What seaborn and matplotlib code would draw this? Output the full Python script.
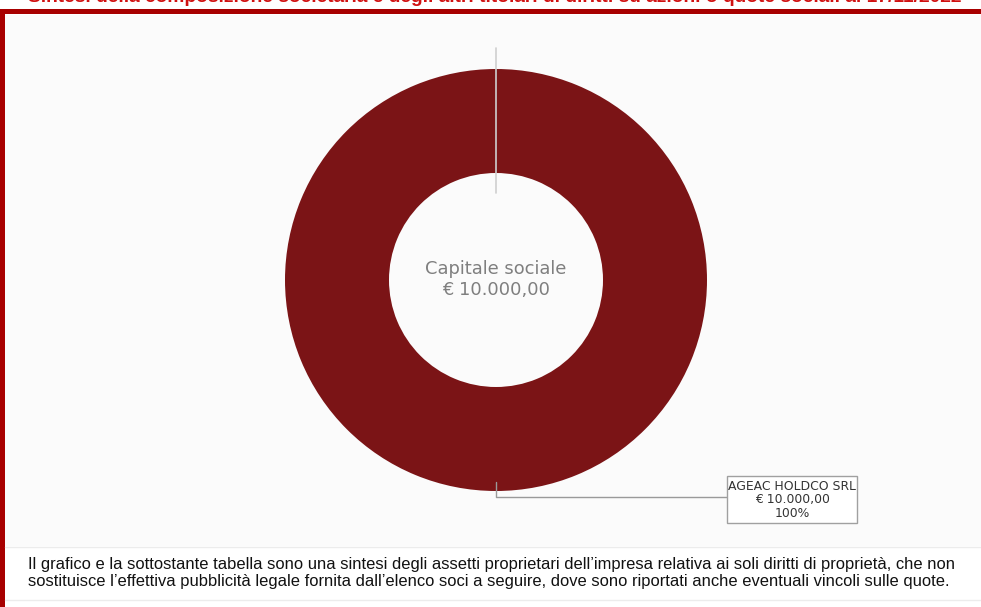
import matplotlib
matplotlib.use("Agg")
import matplotlib.pyplot as plt
from matplotlib.patches import Rectangle
import seaborn as sns

# Shareholding data
soci = ["AGEAC HOLDCO SRL"]
quote_euro = [10000.00]
quote_pct = [100]
capitale_sociale = 10000.00

titolo = ("Sintesi della composizione societaria e degli altri titolari di diritti "
          "su azioni o quote sociali al 17/11/2022")
nota = ("Il grafico e la sottostante tabella sono una sintesi degli assetti proprietari "
        "dell\u2019impresa relativa ai soli diritti di proprietà, che non\n"
        "sostituisce l\u2019effettiva pubblicità legale fornita dall\u2019elenco soci "
        "a seguire, dove sono riportati anche eventuali vincoli sulle quote.")


def euro(v):
    s = f"{v:,.2f}"
    return s.replace(",", "X").replace(".", ",").replace("X", ".")


sns.set_theme(style="white")
plt.rcParams["font.family"] = ["DejaVu Sans"]
DV = ["DejaVu Sans"]
LS = ["Liberation Sans", "DejaVu Sans"]

W, H = 981, 607
fig = plt.figure(figsize=(W / 100, H / 100), dpi=100)
fig.patch.set_facecolor("white")
ax = fig.add_axes([0, 0, 1, 1])

RED = "#a80000"

# donut
cx, cy, r_out, r_in = 496, 280, 211, 107
ax.pie(quote_euro, center=(cx, cy), radius=r_out, startangle=90, counterclock=False,
       colors=["#7b1416"], wedgeprops=dict(width=r_out - r_in, edgecolor="none"),
       frame=True)
ax.set_xlim(0, W)
ax.set_ylim(H, 0)
ax.set_aspect("equal")
ax.axis("off")

# page frame: title band and left border
ax.add_patch(Rectangle((5, 15), W - 5, 531, facecolor="#fbfbfb", edgecolor="none", zorder=-1))
ax.add_patch(Rectangle((0, 9), W, 5, facecolor=RED, edgecolor="none", zorder=1))
ax.add_patch(Rectangle((0, 9), 4.5, H - 9, facecolor=RED, edgecolor="none", zorder=1))
ax.plot([5, W], [547, 547], color="#ececec", lw=1, zorder=1)
ax.plot([5, W], [600, 600], color="#ececec", lw=1, zorder=1)

ax.text(28, 2, titolo, color="#d01010", fontsize=13.8, fontweight="bold",
        family=LS, ha="left", va="baseline", zorder=2, clip_on=False)

# start-of-slice marker
ax.plot([cx, cx], [48, 193], color="#cfcfcf", lw=1.2, zorder=5)

ax.text(cx, 269, "Capitale sociale", color="#7f7f7f", fontsize=12.9, family=DV,
        ha="center", va="center", zorder=6)
ax.text(cx, 290, f"€ {euro(capitale_sociale)}", color="#7f7f7f", fontsize=12.9, family=DV,
        ha="center", va="center", zorder=6)

# callout for the single shareholder
bx0, bx1, by0, by1 = 727, 857, 476, 523
ax.plot([cx, cx, bx0], [482, 497, 497], color="#9a9a9a", lw=1, zorder=6)
ax.add_patch(Rectangle((bx0, by0), bx1 - bx0, by1 - by0, facecolor="white",
                       edgecolor="#a0a0a0", lw=1, zorder=6))
label = f"{soci[0]}\n€ {euro(quote_euro[0])}\n{quote_pct[0]}%"
ax.text((bx0 + bx1) / 2, (by0 + by1) / 2 + 0.5, label, color="#333333", fontsize=8.9,
        family=DV, ha="center", va="center", linespacing=1.05, zorder=7)

ax.text(28, 573, nota, color="#111111", fontsize=11.9, family=LS,
        ha="left", va="center", linespacing=1.1, zorder=6)

fig.savefig("out.png", dpi=100)
